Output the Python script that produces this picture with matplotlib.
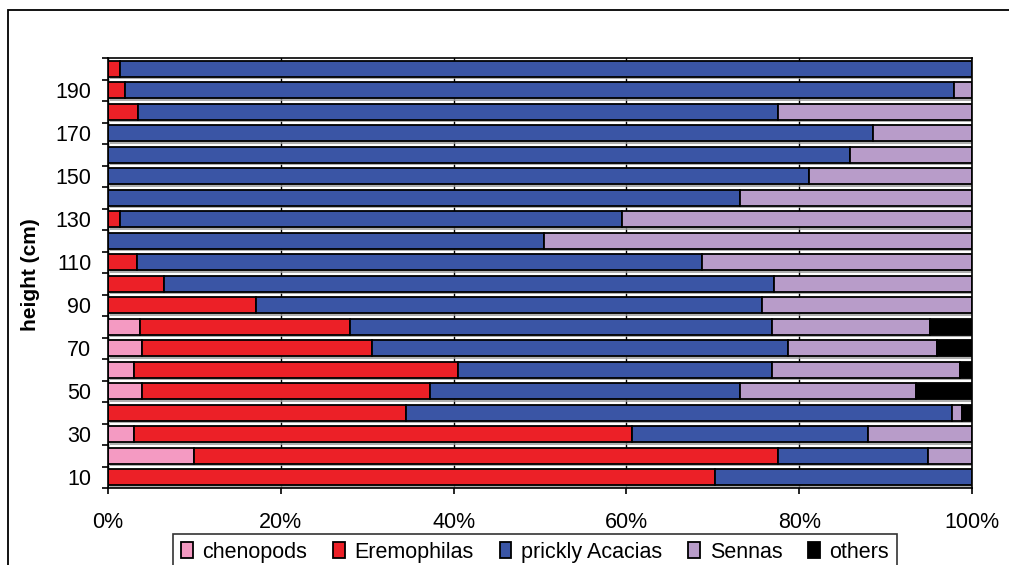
import matplotlib
matplotlib.use("Agg")
import matplotlib.pyplot as plt
import matplotlib.patheffects as pe
from matplotlib.patches import Rectangle, Patch
from matplotlib.ticker import FixedLocator, PercentFormatter
import numpy as np

plt.rcParams['font.family'] = ['Liberation Sans', 'DejaVu Sans']

# Plant height classes (cm), bottom to top
heights = [10, 20, 30, 40, 50, 60, 70, 80, 90, 100,
           110, 120, 130, 140, 150, 160, 170, 180, 190, 200]

# Percentage composition of each height class
chenopods = [0.0, 10.0, 3.0, 0.0, 3.9, 3.0, 3.9, 3.7, 0.0, 0.0,
             0.0, 0.0, 0.0, 0.0, 0.0, 0.0, 0.0, 0.0, 0.0, 0.0]
eremophilas = [70.2, 67.6, 57.6, 34.5, 33.4, 37.5, 26.7, 24.3, 17.1, 6.5,
               3.3, 0.0, 1.4, 0.0, 0.0, 0.0, 0.0, 3.5, 2.0, 1.4]
acacias = [29.8, 17.3, 27.4, 63.2, 35.9, 36.4, 48.1, 48.9, 58.6, 70.6,
           65.5, 50.5, 58.1, 73.2, 81.1, 85.9, 88.5, 74.1, 95.95, 98.6]
sennas = [0.0, 5.1, 12.0, 1.1, 20.3, 21.7, 17.3, 18.2, 24.3, 22.9,
          31.2, 49.5, 40.5, 26.8, 18.9, 14.1, 11.5, 22.4, 2.05, 0.0]
others = [0.0, 0.0, 0.0, 1.2, 6.5, 1.4, 4.0, 4.9, 0.0, 0.0,
          0.0, 0.0, 0.0, 0.0, 0.0, 0.0, 0.0, 0.0, 0.0, 0.0]

series = [
    ("chenopods", chenopods, "#F49AC2"),
    ("Eremophilas", eremophilas, "#EC2027"),
    ("prickly Acacias", acacias, "#3A55A5"),
    ("Sennas", sennas, "#B89CC9"),
    ("others", others, "#000000"),
]

W, H = 1009, 565
fig = plt.figure(figsize=(W / 100, H / 100), dpi=100)
ax = fig.add_axes([108 / W, 1 - 488 / H, (972 - 108) / W, (488 - 58) / H])

y = np.arange(len(heights))
shadow = [pe.SimplePatchShadow(offset=(1.5, -1.5), shadow_rgbFace="#9a9a9a", alpha=0.8),
          pe.Normal()]
left = np.zeros(len(heights))
handles = []
for name, vals, color in series:
    vals = np.asarray(vals, dtype=float)
    bars = ax.barh(y, vals, left=left, height=0.76, color=color,
                   edgecolor="black", linewidth=1.3, zorder=3)
    for b, v in zip(bars, vals):
        if v <= 0:
            b.set_visible(False)
        else:
            b.set_path_effects(shadow)
    left += vals
    handles.append(Patch(facecolor=color, edgecolor="black", linewidth=1.3, label=name))

ax.set_xlim(0, 100)
ax.set_ylim(-0.5, len(heights) - 0.5)

# vertical gridlines every 20 %
ax.xaxis.set_major_locator(FixedLocator([0, 20, 40, 60, 80, 100]))
ax.xaxis.set_major_formatter(PercentFormatter(decimals=0))
ax.grid(axis="x", color="black", linewidth=1.0, zorder=0)
ax.set_axisbelow(True)

# y ticks: labels on every other class, tick marks at class boundaries
label_pos = [i for i, h in enumerate(heights) if (h // 10) % 2 == 1]
ax.set_yticks(label_pos)
ax.set_yticklabels([str(heights[i]) for i in label_pos])
ax.yaxis.set_minor_locator(FixedLocator(np.arange(-0.5, len(heights), 1.0)))
ax.tick_params(axis="y", which="major", length=0, pad=12, labelsize=15.5)
ax.tick_params(axis="y", which="minor", length=4.5, width=1.2, direction="out")
ax.tick_params(axis="x", which="major", length=4.5, width=1.2, direction="out",
               pad=13, labelsize=15.5)

for s in ax.spines.values():
    s.set_linewidth(1.2)
    s.set_zorder(4)

fig.text(30 / W, 1 - 275 / H, "height (cm)", rotation=90, ha="center",
         va="center", fontsize=15, fontweight="bold")

leg = fig.legend(handles=handles, loc="upper center",
                 bbox_to_anchor=(535 / W, 1 - 534 / H),
                 ncol=5, fontsize=15.5, frameon=True, fancybox=False,
                 edgecolor="black", handlelength=0.55, handleheight=0.75,
                 handletextpad=0.45, columnspacing=1.2, borderpad=0.35,
                 borderaxespad=0)
leg.get_frame().set_linewidth(1.2)

# outer chart frame
fig.add_artist(Rectangle((8 / W, -0.2), 1.2, 1.2 - 10 / H, transform=fig.transFigure,
                         fill=False, edgecolor="black", linewidth=1.3))

fig.savefig("out.png", dpi=100)
